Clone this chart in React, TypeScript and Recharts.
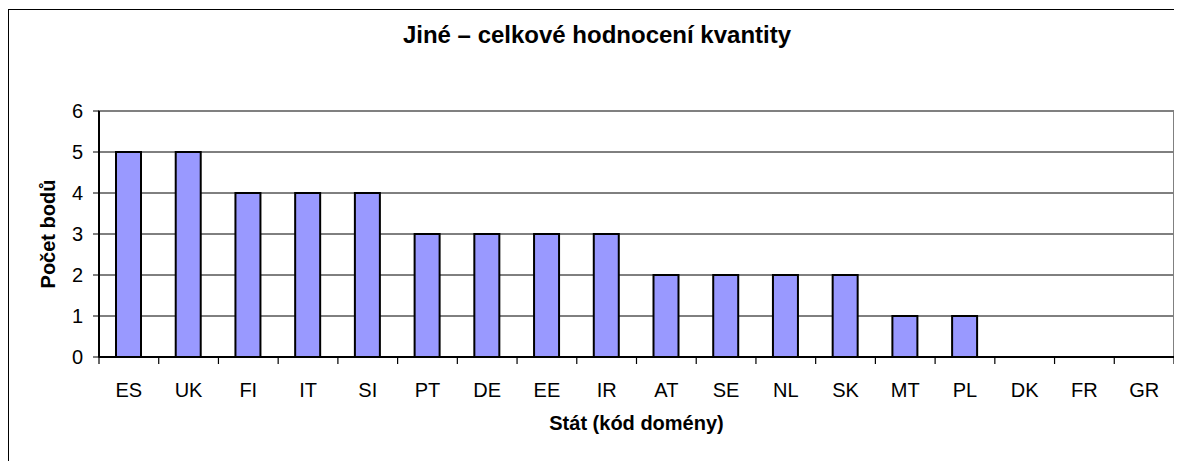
import React from 'react';
import { BarChart, Bar, XAxis, YAxis, CartesianGrid, ReferenceArea } from 'recharts';

const countries = ['ES', 'UK', 'FI', 'IT', 'SI', 'PT', 'DE', 'EE', 'IR', 'AT', 'SE', 'NL', 'SK', 'MT', 'PL', 'DK', 'FR', 'GR'];
const points = [5, 5, 4, 4, 4, 3, 3, 3, 3, 2, 2, 2, 2, 1, 1, 0, 0, 0];
const yTicks = [0, 1, 2, 3, 4, 5, 6];

const data = countries.map((c, i) => ({ name: c, value: points[i] }));

const font = 'Arial, "Liberation Sans", sans-serif';

// tick label plus the little tick marks that sit on the category boundaries
const CategoryTick = (props: any) => {
  const { x, y, payload, index, width, visibleTicksCount } = props;
  const count = visibleTicksCount || countries.length;
  const half = Number(width) > 0 ? Number(width) / count / 2 : (payload && payload.offset) || 0;
  return (
    <g>
      <line x1={x - half} y1={y} x2={x - half} y2={y + 7} stroke="#000" strokeWidth={1.2} />
      {index === count - 1 && (
        <line x1={x + half} y1={y} x2={x + half} y2={y + 7} stroke="#000" strokeWidth={1.2} />
      )}
      <text x={x} y={y + 26} dy="0.71em" textAnchor="middle" fill="#000" fontSize={20} fontFamily={font}>
        {payload.value}
      </text>
    </g>
  );
};

const App = () => {
  return (
    <div style={{ position: 'relative', width: 1182, height: 461, fontFamily: font }}>
      {/* outer frame, clipped on the right and bottom */}
      <div
        style={{
          position: 'absolute',
          left: 0,
          top: 1,
          width: 1174,
          height: 452,
          borderLeft: '1px solid #000',
          borderTop: '1px solid #000',
        }}
      />
      <div
        style={{
          position: 'absolute',
          left: 0,
          top: 13,
          width: 1178,
          textAlign: 'center',
          fontSize: 24,
          fontWeight: 'bold',
          color: '#000',
        }}
      >
        Jiné – celkové hodnocení kvantity
      </div>
      <div style={{ position: 'absolute', left: 1, top: 2 }}>
        <BarChart
          width={1173}
          height={451}
          data={data}
          margin={{ top: 101, right: 8, bottom: 0, left: 0 }}
        >
          {/* grey plot-area outline; left and bottom get covered by the black axes */}
          <ReferenceArea
            x1="ES"
            x2="GR"
            y1={0}
            y2={6}
            ifOverflow="visible"
            fill="none"
            stroke="#808080"
            strokeWidth={2}
          />
          <CartesianGrid vertical={false} stroke="#000" strokeWidth={1} horizontalValues={[1, 2, 3, 4, 5]} />
          <XAxis
            dataKey="name"
            height={104}
            axisLine={{ stroke: '#000', strokeWidth: 2 }}
            tickLine={false}
            tickSize={0}
            tickMargin={0}
            interval={0}
            tick={<CategoryTick />}
            label={{
              value: 'Stát (kód domény)',
              position: 'insideBottom',
              offset: 31,
              fill: '#000',
              fontSize: 20,
              fontWeight: 'bold',
              fontFamily: font,
            }}
          />
          <YAxis
            domain={[0, 6]}
            ticks={yTicks}
            width={90}
            interval={0}
            tickSize={6}
            tickMargin={10}
            axisLine={{ stroke: '#000', strokeWidth: 2 }}
            tickLine={{ stroke: '#000' }}
            tick={{ fill: '#000', fontSize: 20, fontFamily: font }}
            label={{
              value: 'Počet bodů',
              angle: -90,
              position: 'insideLeft',
              offset: 39,
              fill: '#000',
              fontSize: 20,
              fontWeight: 'bold',
              fontFamily: font,
              style: { textAnchor: 'middle' },
            }}
          />
          <Bar
            dataKey="value"
            fill="#9999FF"
            stroke="#000"
            strokeWidth={2}
            barSize={25}
            isAnimationActive={false}
          />
        </BarChart>
      </div>
    </div>
  );
};

export default App;
